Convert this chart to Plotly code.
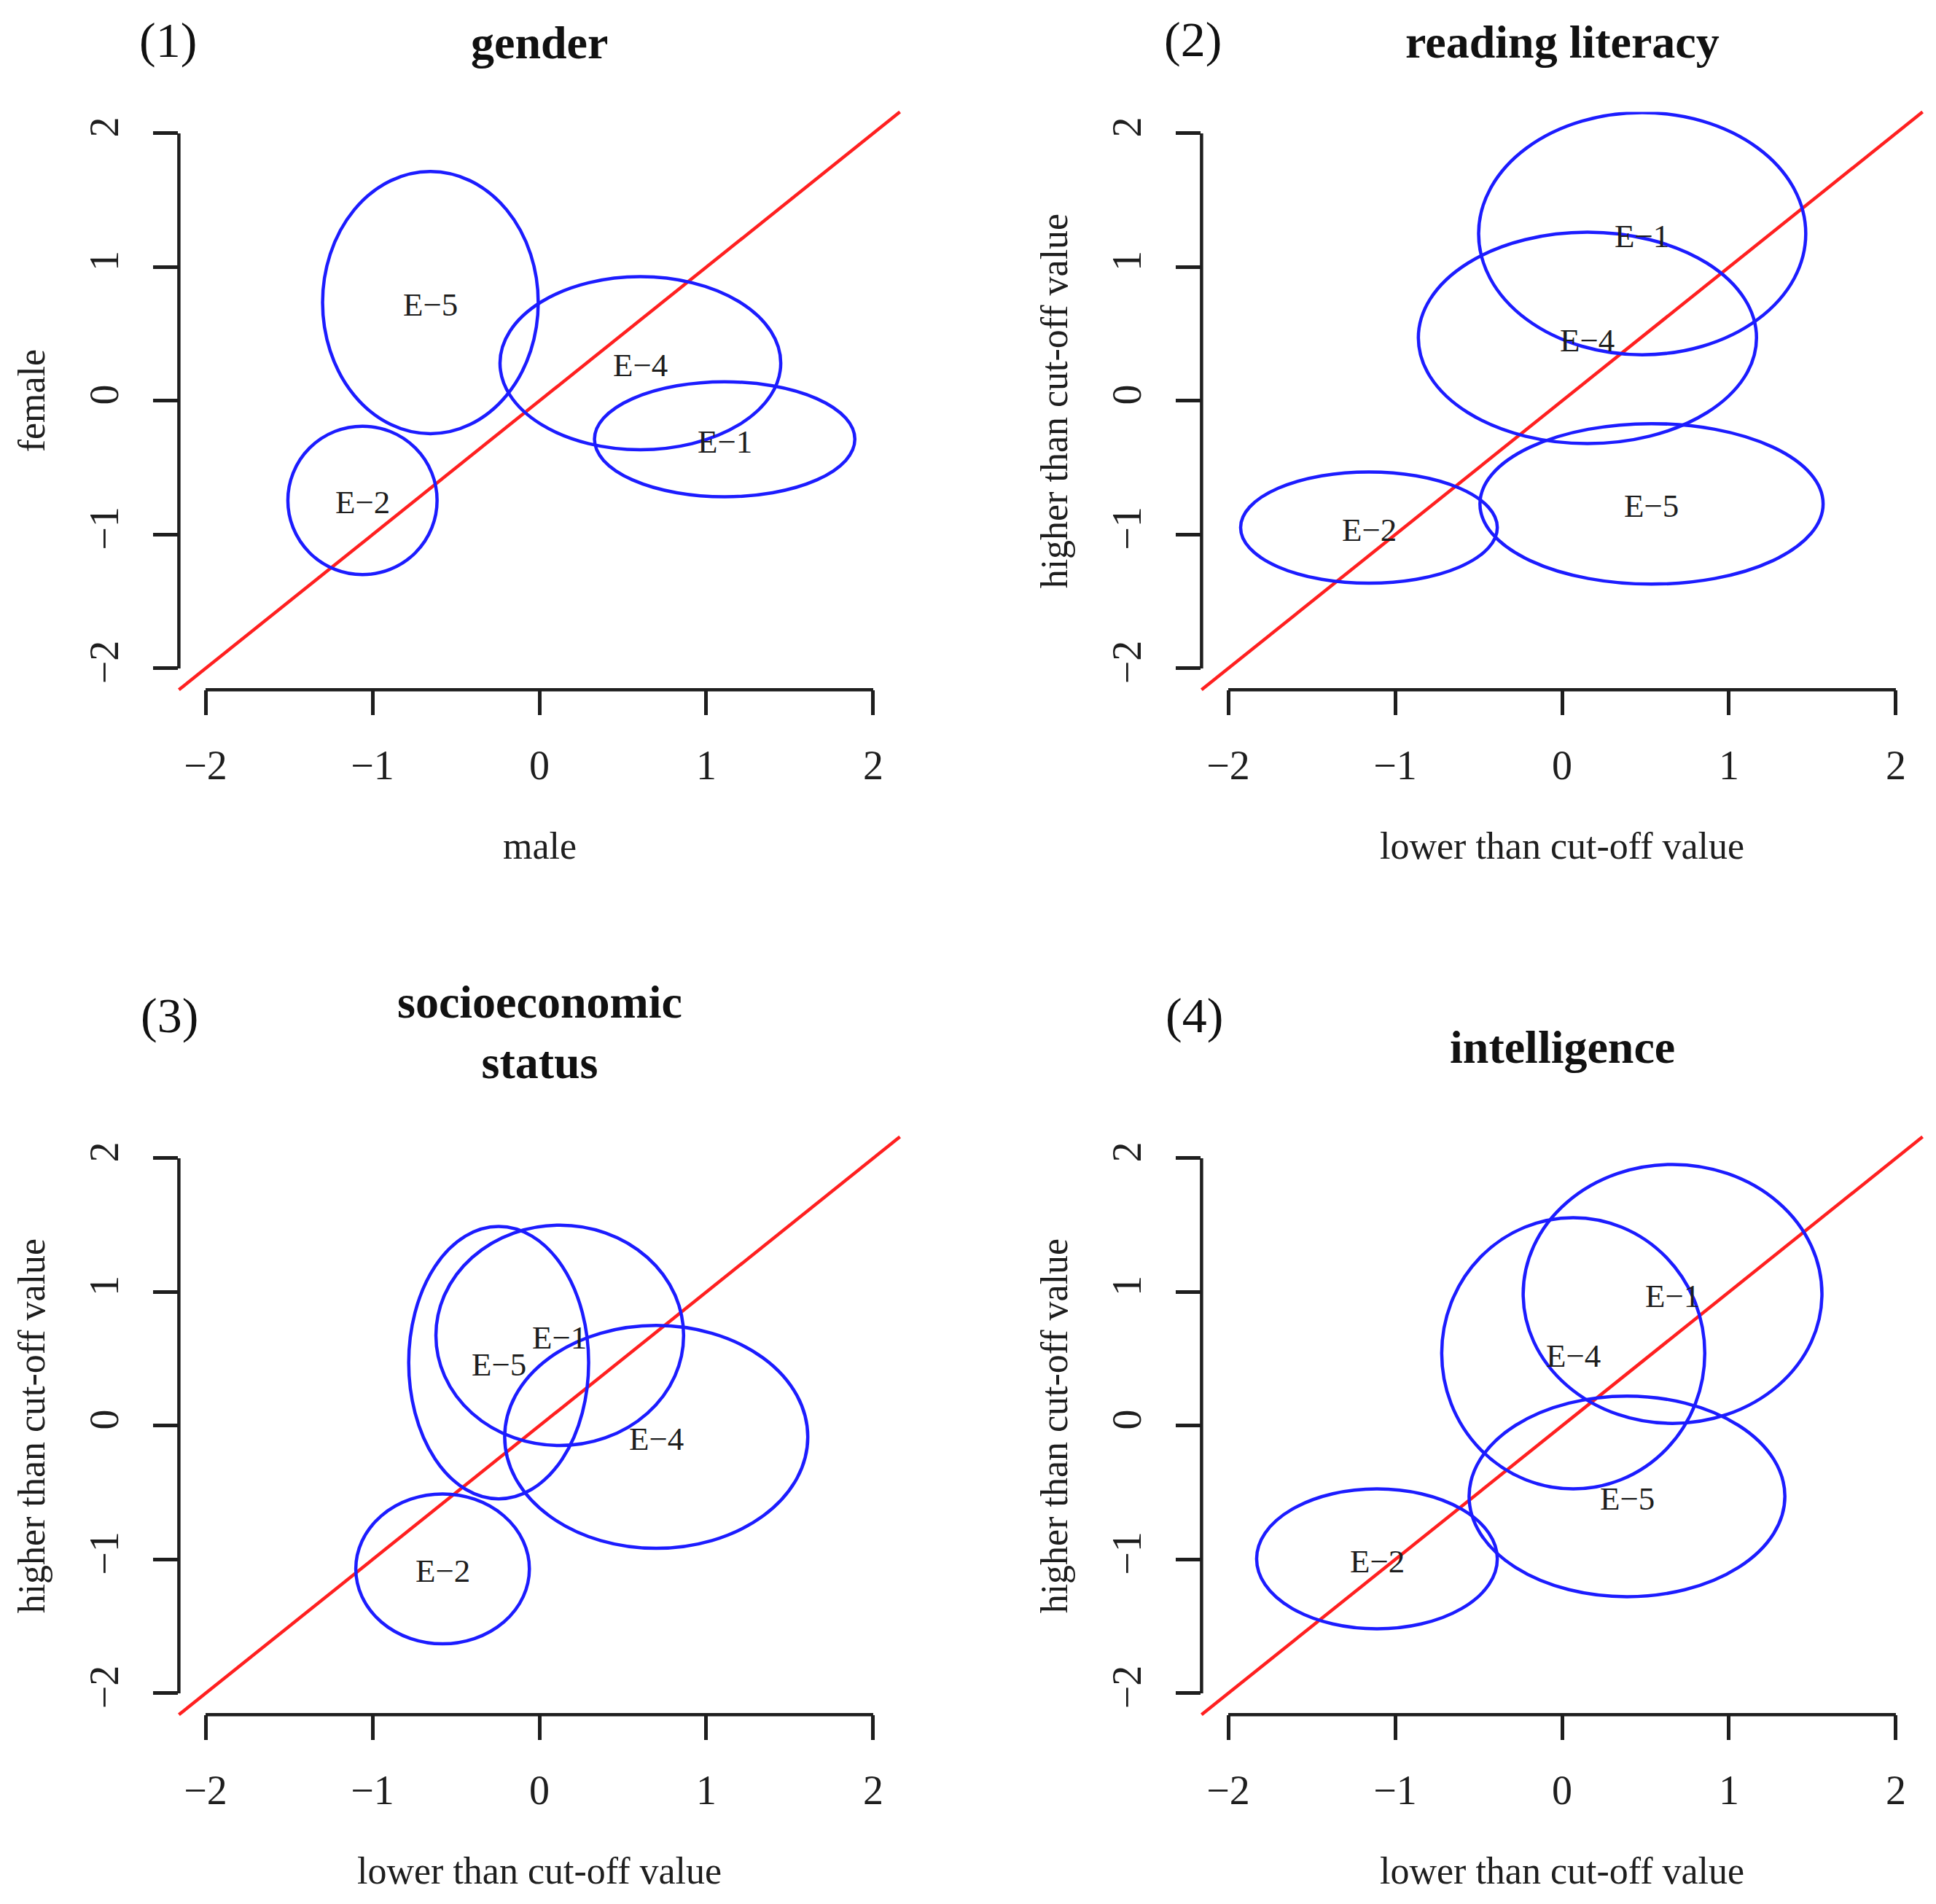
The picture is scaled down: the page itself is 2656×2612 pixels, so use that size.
import plotly.graph_objects as go

# ---- data ----
panel_titles = ["gender", "reading literacy", "socioeconomic<br>status", "intelligence"]
panel_tags = ["(1)", "(2)", "(3)", "(4)"]
x_titles = ["male", "lower than cut-off value", "lower than cut-off value", "lower than cut-off value"]
y_titles = ["female", "higher than cut-off value", "higher than cut-off value", "higher than cut-off value"]
groups = ["E−1", "E−2", "E−4", "E−5"]
tick_vals = [-2, -1, 0, 1, 2]

# ellipse centres and half-widths per panel, in the order of `groups`
gender_cx = [1.11, -1.06, 0.605, -0.653]
gender_cy = [-0.287, -0.744, 0.282, 0.735]
gender_rx = [0.78, 0.447, 0.841, 0.646]
gender_ry = [0.43, 0.555, 0.647, 0.98]

reading_cx = [0.48, -1.157, 0.152, 0.536]
reading_cy = [1.25, -0.947, 0.471, -0.77]
reading_rx = [0.98, 0.769, 1.013, 1.028]
reading_ry = [0.905, 0.416, 0.79, 0.60]

ses_cx = [0.122, -0.58, 0.70, -0.244]
ses_cy = [0.676, -1.07, -0.083, 0.472]
ses_rx = [0.742, 0.52, 0.908, 0.539]
ses_ry = [0.824, 0.56, 0.833, 1.018]

intel_cx = [0.662, -1.109, 0.067, 0.389]
intel_cy = [0.986, -0.995, 0.542, -0.528]
intel_rx = [0.895, 0.721, 0.788, 0.946]
intel_ry = [0.968, 0.523, 1.014, 0.75]

centres_x = [gender_cx, reading_cx, ses_cx, intel_cx]
centres_y = [gender_cy, reading_cy, ses_cy, intel_cy]
radii_x = [gender_rx, reading_rx, ses_rx, intel_rx]
radii_y = [gender_ry, reading_ry, ses_ry, intel_ry]

# ---- page geometry (pixels) ----
PAGE_W, PAGE_H = 2656, 2612
PAD = 8  # the browser puts a default 8px margin round the body
W, H = PAGE_W - 2 * PAD, PAGE_H - 2 * PAD
FONT = "Liberation Serif"
INK = "#1e1e1e"
BLUE = "#1c1cff"
RED = "#ff2020"
LW = 4.5


def px(x):
    return (x - PAD) / W


def py(y):
    return 1 - (y - PAD) / H


# plot regions [left, right] and [top, bottom] in page pixels
cols = [(245.4, 1234.6), (1648.4, 2637.6)]
rows = [(153.6, 946.3), (1559.6, 2352.3)]

fig = go.Figure()
shapes = []
annotations = []


def note(text, x, y, size, angle=0, color=INK):
    annotations.append(dict(text=text, x=px(x), y=py(y), xref="paper", yref="paper",
                            xanchor="center", yanchor="middle", showarrow=False,
                            textangle=angle, font=dict(family=FONT, size=size, color=color)))


for i in range(4):
    n = "" if i == 0 else str(i + 1)
    xa, ya = "x" + n, "y" + n
    left, right = cols[i % 2]
    top, bottom = rows[i // 2]

    axis_common = dict(
        range=[-2.16, 2.16], showgrid=False, zeroline=False, showline=False,
        ticks="outside", ticklen=34, tickwidth=LW, tickcolor=INK,
        tickvals=tick_vals, tickfont=dict(family=FONT, size=56, color=INK),
        fixedrange=True,
    )
    fig.update_layout(**{
        "xaxis" + n: dict(axis_common, domain=[px(left), px(right)], anchor=ya,
                          ticklabelstandoff=20),
        "yaxis" + n: dict(axis_common, domain=[py(bottom), py(top)], anchor=xa,
                          tickangle=-90, ticklabelstandoff=26),
    })

    # R-style axis lines only from first to last tick
    shapes.append(dict(type="line", xref=xa, yref=ya + " domain", x0=-2, x1=2, y0=0, y1=0,
                       line=dict(color=INK, width=LW), layer="above"))
    shapes.append(dict(type="line", xref=xa + " domain", yref=ya, x0=0, x1=0, y0=-2, y1=2,
                       line=dict(color=INK, width=LW), layer="above"))

    # identity line across the whole plot region
    shapes.append(dict(type="line", xref=xa + " domain", yref=ya + " domain",
                       x0=0, y0=0, x1=1, y1=1, line=dict(color=RED, width=LW), layer="above"))

    for cx, cy, rx, ry in zip(centres_x[i], centres_y[i], radii_x[i], radii_y[i]):
        shapes.append(dict(type="circle", xref=xa, yref=ya,
                           x0=cx - rx, x1=cx + rx, y0=cy - ry, y1=cy + ry,
                           line=dict(color=BLUE, width=LW), layer="above"))

    # group labels at the ellipse centres
    fig.add_trace(go.Scatter(x=centres_x[i], y=centres_y[i], mode="markers",
                             marker=dict(opacity=0), xaxis=xa, yaxis=ya,
                             showlegend=False, hoverinfo="skip"))
    for g, cx, cy in zip(groups, centres_x[i], centres_y[i]):
        annotations.append(dict(text=g, x=cx, y=cy, xref=xa, yref=ya, showarrow=False,
                                xanchor="center", yanchor="middle", yshift=-3,
                                font=dict(family=FONT, size=45, color=INK)))

    mid_x = (left + right) / 2
    mid_y = (top + bottom) / 2
    note(x_titles[i], mid_x, bottom + 214, 52)
    note(y_titles[i], left - 201, mid_y, 52, angle=-90)

# panel titles and tags (positions)
title_pos = [(740, 58), (2143, 57), (740, 1416), (2143, 1436)]
tag_pos = [(230, 55), (1636, 54), (232, 1393), (1638, 1393)]
for i in range(4):
    note("<b>" + panel_titles[i] + "</b>", title_pos[i][0], title_pos[i][1], 64, color="#111")
    note(panel_tags[i], tag_pos[i][0], tag_pos[i][1], 68, color="#111")

fig.update_layout(
    width=W, height=H, margin=dict(l=0, r=0, t=0, b=0),
    paper_bgcolor="white", plot_bgcolor="white",
    shapes=shapes, annotations=annotations,
)

fig.write_html("out.html")
